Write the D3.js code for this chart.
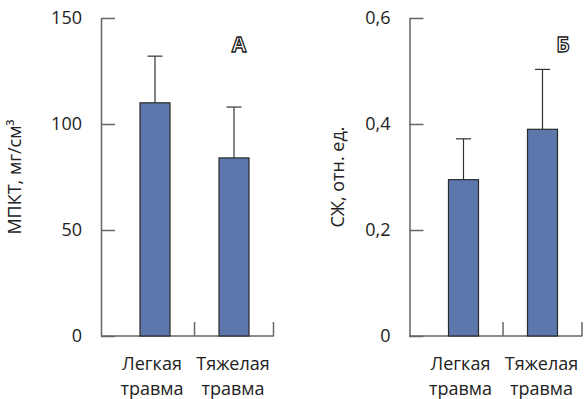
<!DOCTYPE html>
<html><head><meta charset="utf-8">
<script src="https://cdn.jsdelivr.net/npm/d3@7"></script>
<style>
html,body{margin:0;padding:0;background:#fff;}
text{font-family:"Open Sans","Noto Sans",sans-serif;fill:#222;}
</style></head>
<body>
<script>
const categories = ["Легкая травма", "Тяжелая травма"];
const bmdValues = [110, 84];
const bmdErrors = [22, 24];
const bmdTicks = [0, 50, 100, 150];
const szValues = [0.295, 0.39];
const szErrors = [0.077, 0.113];
const szTicks = [0, 0.2, 0.4, 0.6];

const W = 584, H = 399;
const svg = d3.select("body").append("svg").attr("width", W).attr("height", H);

const axisColor = "#666";
const barFill = "#5b77ac";
const fs = 18;

function panel(ox, values, errors, ticks, fmt, yLabel, yLabelX, letter, letterX) {
  const g = svg.append("g").attr("transform", `translate(${ox},0)`);
  const y = d3.scaleLinear().domain([ticks[0], ticks[ticks.length - 1]]).range([336, 18]);
  const x = d3.scaleBand().domain(categories).range([14.5, 172.5]).padding(0);
  const barW = 30;

  // y axis
  const ax = g.append("g").call(d3.axisLeft(y).tickValues(ticks).tickFormat(fmt)
      .tickSizeInner(-14).tickSizeOuter(0).tickPadding(19));
  ax.select(".domain").attr("stroke", axisColor).attr("stroke-width", 1.5);
  ax.selectAll(".tick line").attr("stroke", axisColor).attr("stroke-width", 1.5);
  ax.selectAll(".tick text").attr("font-size", fs).attr("fill", "#222")
    .style("font-family", '"Open Sans","Noto Sans",sans-serif');

  // x axis line
  g.append("line").attr("x1", 0).attr("x2", x.range()[1] + 0.5)
    .attr("y1", y(0)).attr("y2", y(0)).attr("stroke", axisColor).attr("stroke-width", 1.5);
  g.selectAll(".sep").data(categories).enter().append("line")
    .attr("x1", d => x(d) + x.bandwidth()).attr("x2", d => x(d) + x.bandwidth())
    .attr("y1", y(0)).attr("y2", y(0) - 14)
    .attr("stroke", axisColor).attr("stroke-width", 1.5);

  // error bars
  categories.forEach((c, i) => {
    const cx = x(c) + x.bandwidth() / 2;
    g.append("line").attr("x1", cx).attr("x2", cx)
      .attr("y1", y(values[i])).attr("y2", y(values[i] + errors[i]))
      .attr("stroke", "#333").attr("stroke-width", 1.2);
    g.append("line").attr("x1", cx - 7.5).attr("x2", cx + 7.5)
      .attr("y1", y(values[i] + errors[i])).attr("y2", y(values[i] + errors[i]))
      .attr("stroke", "#333").attr("stroke-width", 1.2);
  });

  // bars
  g.selectAll(".bar").data(categories).enter().append("rect")
    .attr("x", d => x(d) + (x.bandwidth() - barW) / 2)
    .attr("width", barW)
    .attr("y", (d, i) => y(values[i]))
    .attr("height", (d, i) => y(0) - y(values[i]))
    .attr("fill", barFill).attr("stroke", "#2a2a2a").attr("stroke-width", 1.2);

  // category labels
  categories.forEach((c, i) => {
    const cx = x(c) + x.bandwidth() / 2 - (i === 0 ? 3 : 1);
    const parts = c.split(" ");
    const t = g.append("text").attr("text-anchor", "middle").attr("font-size", fs);
    t.append("tspan").attr("x", cx).attr("y", 370).text(parts[0]);
    t.append("tspan").attr("x", cx).attr("y", 395).text(parts[1]);
  });

  // y label
  svg.append("text").attr("transform", `translate(${yLabelX},177) rotate(-90)`)
    .attr("text-anchor", "middle").attr("font-size", fs).text(yLabel);

  // panel letter
  svg.append("text").attr("x", letterX).attr("y", 52).attr("text-anchor", "middle")
    .attr("font-size", 21).attr("font-weight", "bold")
    .style("fill", "#fff").attr("stroke", "#222").attr("stroke-width", 1.3)
    .text(letter);
}

panel(101, bmdValues, bmdErrors, bmdTicks, d => d3.format("d")(d),
  "МПКТ, мг/см³", 21, "А", 239);
panel(409.5, szValues, szErrors, szTicks, d => d === 0 ? "0" : d3.format(".1f")(d).replace(".", ","),
  "СЖ, отн. ед.", 344, "Б", 563);
</script>
</body></html>
